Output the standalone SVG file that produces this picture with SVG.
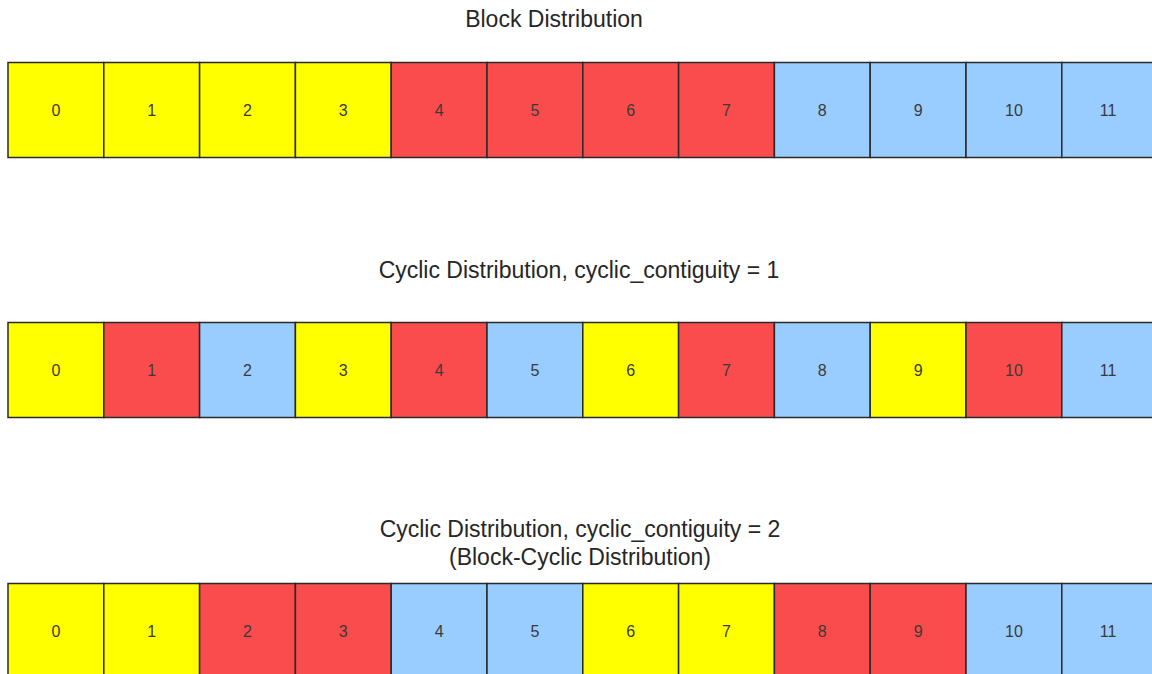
<svg xmlns="http://www.w3.org/2000/svg" width="1152" height="674" viewBox="0 0 1152 674">
<style>
.t{font-family:"Liberation Sans",Arial,sans-serif;font-size:23px;fill:#262626;text-anchor:middle}
.n{font-family:"Liberation Sans",Arial,sans-serif;font-size:16px;fill:#3a3a3a;text-anchor:middle}
.c{stroke:#2a2a2a;stroke-width:1.5}
.y{fill:#ffff00}.r{fill:#fa4c4c}.b{fill:#99ccff}
</style>
<rect width="1152" height="674" fill="#fff"/>
<text class="t" x="554" y="27">Block Distribution</text>
<text class="t" x="579" y="278">Cyclic Distribution, cyclic_contiguity = 1</text>
<text class="t" x="580" y="537">Cyclic Distribution, cyclic_contiguity = 2</text>
<text class="t" x="580" y="565">(Block-Cyclic Distribution)</text>
<g id="row1">
<g id="r1c0"><rect class="c y" x="8" y="62.5" width="95.8" height="95"/><text class="n" x="55.9" y="116">0</text></g>
<g id="r1c1"><rect class="c y" x="103.8" y="62.5" width="95.8" height="95"/><text class="n" x="151.7" y="116">1</text></g>
<g id="r1c2"><rect class="c y" x="199.6" y="62.5" width="95.8" height="95"/><text class="n" x="247.5" y="116">2</text></g>
<g id="r1c3"><rect class="c y" x="295.4" y="62.5" width="95.8" height="95"/><text class="n" x="343.3" y="116">3</text></g>
<g id="r1c4"><rect class="c r" x="391.2" y="62.5" width="95.8" height="95"/><text class="n" x="439.1" y="116">4</text></g>
<g id="r1c5"><rect class="c r" x="487" y="62.5" width="95.8" height="95"/><text class="n" x="534.9" y="116">5</text></g>
<g id="r1c6"><rect class="c r" x="582.8" y="62.5" width="95.8" height="95"/><text class="n" x="630.7" y="116">6</text></g>
<g id="r1c7"><rect class="c r" x="678.6" y="62.5" width="95.8" height="95"/><text class="n" x="726.5" y="116">7</text></g>
<g id="r1c8"><rect class="c b" x="774.4" y="62.5" width="95.8" height="95"/><text class="n" x="822.3" y="116">8</text></g>
<g id="r1c9"><rect class="c b" x="870.2" y="62.5" width="95.8" height="95"/><text class="n" x="918.1" y="116">9</text></g>
<g id="r1c10"><rect class="c b" x="966" y="62.5" width="95.8" height="95"/><text class="n" x="1013.9" y="116">10</text></g>
<g id="r1c11"><rect class="c b" x="1061.8" y="62.5" width="95.8" height="95"/><text class="n" x="1108" y="116">11</text></g>
</g>
<g id="row2">
<g id="r2c0"><rect class="c y" x="8" y="322.5" width="95.8" height="95"/><text class="n" x="55.9" y="376">0</text></g>
<g id="r2c1"><rect class="c r" x="103.8" y="322.5" width="95.8" height="95"/><text class="n" x="151.7" y="376">1</text></g>
<g id="r2c2"><rect class="c b" x="199.6" y="322.5" width="95.8" height="95"/><text class="n" x="247.5" y="376">2</text></g>
<g id="r2c3"><rect class="c y" x="295.4" y="322.5" width="95.8" height="95"/><text class="n" x="343.3" y="376">3</text></g>
<g id="r2c4"><rect class="c r" x="391.2" y="322.5" width="95.8" height="95"/><text class="n" x="439.1" y="376">4</text></g>
<g id="r2c5"><rect class="c b" x="487" y="322.5" width="95.8" height="95"/><text class="n" x="534.9" y="376">5</text></g>
<g id="r2c6"><rect class="c y" x="582.8" y="322.5" width="95.8" height="95"/><text class="n" x="630.7" y="376">6</text></g>
<g id="r2c7"><rect class="c r" x="678.6" y="322.5" width="95.8" height="95"/><text class="n" x="726.5" y="376">7</text></g>
<g id="r2c8"><rect class="c b" x="774.4" y="322.5" width="95.8" height="95"/><text class="n" x="822.3" y="376">8</text></g>
<g id="r2c9"><rect class="c y" x="870.2" y="322.5" width="95.8" height="95"/><text class="n" x="918.1" y="376">9</text></g>
<g id="r2c10"><rect class="c r" x="966" y="322.5" width="95.8" height="95"/><text class="n" x="1013.9" y="376">10</text></g>
<g id="r2c11"><rect class="c b" x="1061.8" y="322.5" width="95.8" height="95"/><text class="n" x="1108" y="376">11</text></g>
</g>
<g id="row3">
<g id="r3c0"><rect class="c y" x="8" y="583.5" width="95.8" height="95"/><text class="n" x="55.9" y="637">0</text></g>
<g id="r3c1"><rect class="c y" x="103.8" y="583.5" width="95.8" height="95"/><text class="n" x="151.7" y="637">1</text></g>
<g id="r3c2"><rect class="c r" x="199.6" y="583.5" width="95.8" height="95"/><text class="n" x="247.5" y="637">2</text></g>
<g id="r3c3"><rect class="c r" x="295.4" y="583.5" width="95.8" height="95"/><text class="n" x="343.3" y="637">3</text></g>
<g id="r3c4"><rect class="c b" x="391.2" y="583.5" width="95.8" height="95"/><text class="n" x="439.1" y="637">4</text></g>
<g id="r3c5"><rect class="c b" x="487" y="583.5" width="95.8" height="95"/><text class="n" x="534.9" y="637">5</text></g>
<g id="r3c6"><rect class="c y" x="582.8" y="583.5" width="95.8" height="95"/><text class="n" x="630.7" y="637">6</text></g>
<g id="r3c7"><rect class="c y" x="678.6" y="583.5" width="95.8" height="95"/><text class="n" x="726.5" y="637">7</text></g>
<g id="r3c8"><rect class="c r" x="774.4" y="583.5" width="95.8" height="95"/><text class="n" x="822.3" y="637">8</text></g>
<g id="r3c9"><rect class="c r" x="870.2" y="583.5" width="95.8" height="95"/><text class="n" x="918.1" y="637">9</text></g>
<g id="r3c10"><rect class="c b" x="966" y="583.5" width="95.8" height="95"/><text class="n" x="1013.9" y="637">10</text></g>
<g id="r3c11"><rect class="c b" x="1061.8" y="583.5" width="95.8" height="95"/><text class="n" x="1108" y="637">11</text></g>
</g>
<g id="connectors"/>
</svg>
